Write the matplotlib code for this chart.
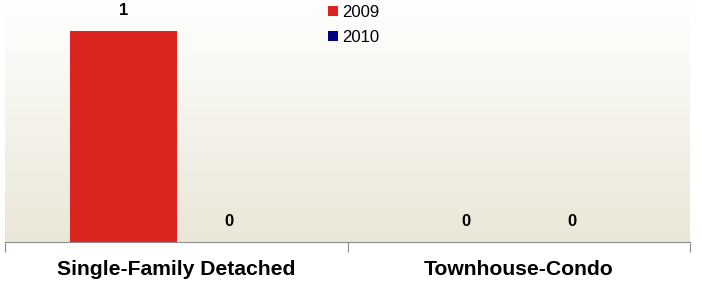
import matplotlib.pyplot as plt
import numpy as np
from matplotlib.colors import LinearSegmentedColormap

plt.rcParams['font.family'] = ['Liberation Sans', 'DejaVu Sans']

# data
categories = ['Single-Family Detached', 'Townhouse-Condo']
years = ['2009', '2010']
values_2009 = [1, 0]
values_2010 = [0, 0]
colors = ['#DC2520', '#000080']

fig = plt.figure(figsize=(7.02, 2.81), dpi=100)
ax = fig.add_axes([5 / 702, 39 / 281, 685 / 702, 242 / 281])

# background gradient, white at top to beige at bottom
cmap = LinearSegmentedColormap.from_list('bg', ['#EAE7D7', '#FFFFFF'])
grad = np.linspace(0, 1, 256).reshape(-1, 1)
ax.imshow(grad, aspect='auto', cmap=cmap, origin='lower',
          extent=[0, 1, 0, 1], transform=ax.transAxes, zorder=0)

x = np.arange(len(categories))
width = 0.31
offset = 0.154
series = [values_2009, values_2010]
for i, (vals, yr) in enumerate(zip(series, years)):
    pos = x + (i * 2 - 1) * offset
    bars = ax.bar(pos, vals, width, color=colors[i], label=yr, zorder=2)
    for b, v in zip(bars, vals):
        ax.annotate(str(v), (b.get_x() + b.get_width() / 2, v),
                    xytext=(0, 11.5), textcoords='offset points',
                    ha='center', va='baseline', fontsize=12,
                    fontweight='bold')

ax.set_xlim(-0.5, 1.5)
ax.set_ylim(0, 242 / 211)
ax.set_yticks([])
for s in ['top', 'right', 'left']:
    ax.spines[s].set_visible(False)
ax.spines['bottom'].set_color('#8C8C8C')
ax.set_xticks([-0.5, 0.5, 1.5])
ax.set_xticklabels([])
ax.set_xticks(x, minor=True)
ax.set_xticklabels(categories, minor=True, fontsize=15.2, fontweight='bold')
ax.tick_params(axis='x', which='major', length=7, color='#8C8C8C')
ax.tick_params(axis='x', which='minor', length=0, pad=13)

fig.legend(loc='upper left', bbox_to_anchor=(320 / 702, 1.013),
           frameon=False, fontsize=12, handlelength=0.55, handleheight=0.55,
           handletextpad=0.3, labelspacing=0.62, borderpad=0)

fig.savefig('out.png', dpi=100)
